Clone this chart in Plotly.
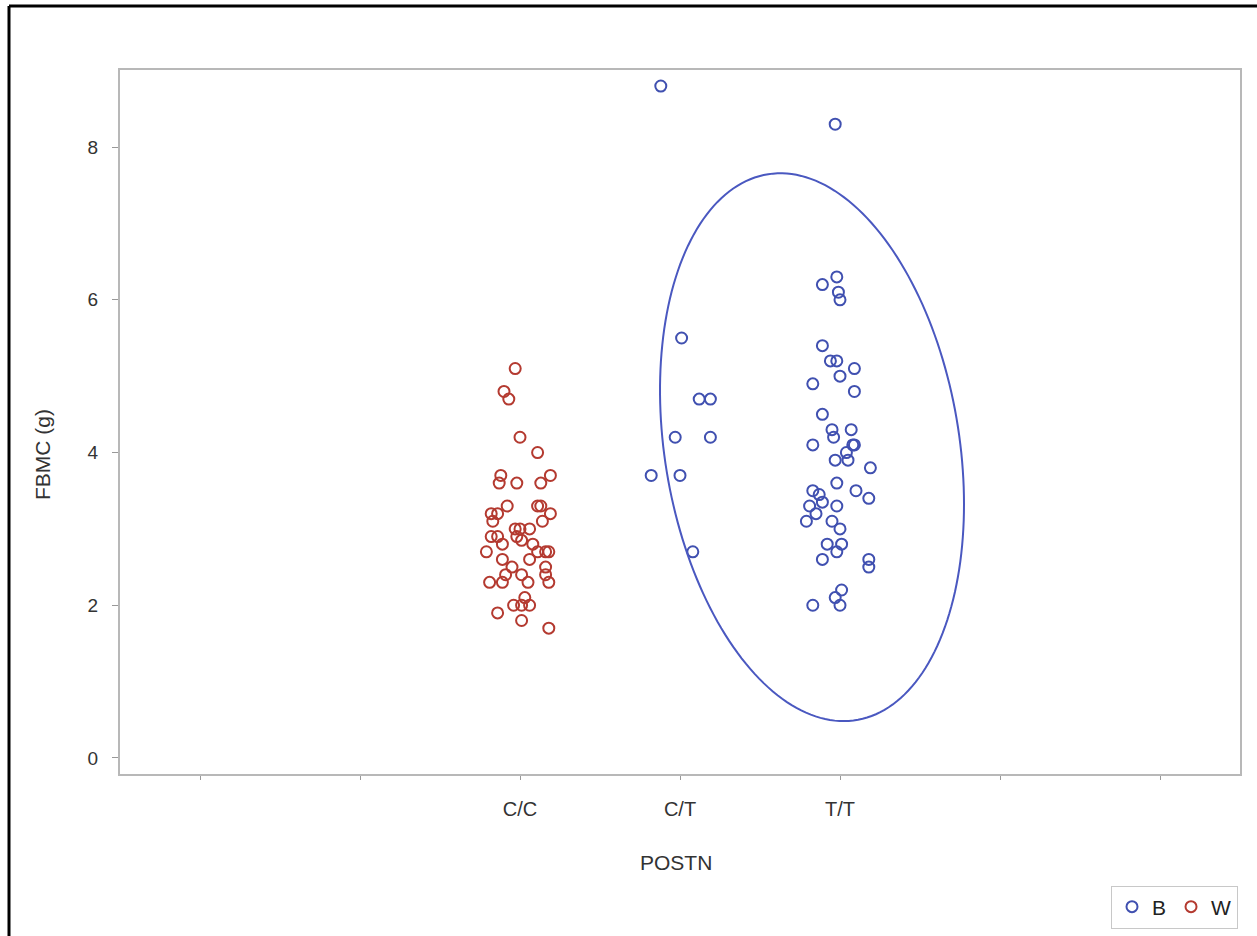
import numpy as np
import plotly.graph_objects as go

# ---- data ----
categories = ["", "", "C/C", "C/T", "T/T", "", ""]

# W group (C/C): horizontal jitter offset, FBMC value
w_jitter = [-0.03, -0.10, -0.07, 0.00, 0.11, -0.12, 0.19, -0.13, -0.02, 0.13,
            -0.18, -0.14, -0.08, 0.11, 0.13, 0.19, -0.17, 0.14, -0.18, -0.14,
            -0.03, 0.00, 0.06, -0.02, 0.01, 0.08, -0.11, -0.21, 0.11, 0.16,
            0.18, -0.11, 0.06, -0.05, 0.16, -0.09, 0.01, 0.16, -0.19, -0.11,
            0.05, 0.18, 0.03, -0.04, 0.01, 0.06, -0.14, 0.01, 0.18]
w_fbmc = [5.1, 4.8, 4.7, 4.2, 4.0, 3.7, 3.7, 3.6, 3.6, 3.6,
          3.2, 3.2, 3.3, 3.3, 3.3, 3.2, 3.1, 3.1, 2.9, 2.9,
          3.0, 3.0, 3.0, 2.9, 2.85, 2.8, 2.8, 2.7, 2.7, 2.7,
          2.7, 2.6, 2.6, 2.5, 2.5, 2.4, 2.4, 2.4, 2.3, 2.3,
          2.3, 2.3, 2.1, 2.0, 2.0, 2.0, 1.9, 1.8, 1.7]

# B group, C/T
bct_jitter = [-0.12, 0.01, 0.12, 0.19, -0.03, 0.19, -0.18, 0.00, 0.08]
bct_fbmc = [8.8, 5.5, 4.7, 4.7, 4.2, 4.2, 3.7, 3.7, 2.7]

# B group, T/T
btt_jitter = [-0.03, -0.02, -0.11, -0.01, 0.00, -0.11, -0.06, -0.02, 0.09, 0.00,
              -0.17, 0.09, -0.11, -0.05, 0.07, -0.04, -0.17, 0.08, 0.09, 0.04,
              -0.03, 0.05, 0.19, -0.02, 0.10, 0.18, -0.17, -0.13, -0.19, -0.11,
              -0.15, -0.02, -0.21, -0.05, 0.00, -0.08, 0.01, -0.02, -0.11, 0.18,
              0.18, 0.01, -0.03, -0.17, 0.00]
btt_fbmc = [8.3, 6.3, 6.2, 6.1, 6.0, 5.4, 5.2, 5.2, 5.1, 5.0,
            4.9, 4.8, 4.5, 4.3, 4.3, 4.2, 4.1, 4.1, 4.1, 4.0,
            3.9, 3.9, 3.8, 3.6, 3.5, 3.4, 3.5, 3.45, 3.3, 3.35,
            3.2, 3.3, 3.1, 3.1, 3.0, 2.8, 2.8, 2.7, 2.6, 2.6,
            2.5, 2.2, 2.1, 2.0, 2.0]

x_title = "POSTN"
y_title = "FBMC (g)"

# ellipse (highlight) parameters in data units
ell_cx, ell_cy = 3.825, 4.07
ell_ax, ell_ay1, ell_ay2 = 0.95, 0.746, 3.509

# ---- styles ----
BLUE = "#4050B0"
RED = "#B43A30"
AXIS = "#B8B8B8"
TXT = "#333333"

pos = {c: i for i, c in enumerate(categories) if c}

fig = go.Figure()

bx = [pos["C/T"] + j for j in bct_jitter] + [pos["T/T"] + j for j in btt_jitter]
by = bct_fbmc + btt_fbmc
fig.add_trace(go.Scatter(
    x=bx, y=by, mode="markers", name="B",
    marker=dict(symbol="circle-open", size=11, color=BLUE, line=dict(width=2, color=BLUE)),
))
wx = [pos["C/C"] + j for j in w_jitter]
fig.add_trace(go.Scatter(
    x=wx, y=w_fbmc, mode="markers", name="W",
    marker=dict(symbol="circle-open", size=11, color=RED, line=dict(width=2, color=RED)),
))

t = np.linspace(0, 2 * np.pi, 200)
ex = ell_cx + ell_ax * np.cos(t)
ey = ell_cy - ell_ay1 * np.cos(t) - ell_ay2 * np.sin(t)
path = "M " + " L ".join(f"{a:.4f},{b:.4f}" for a, b in zip(ex, ey)) + " Z"

W, H = 1257, 936
L, R, T, B = 120, 17, 70, 162
pw, ph = W - L - R, H - T - B

def px_x(p):
    return (p - L) / pw

def px_y(p):
    return (H - B - p) / ph

shapes = [
    dict(type="path", xref="x", yref="y", path=path, line=dict(color="#4A58C0", width=2)),
    dict(type="line", xref="paper", yref="paper", x0=px_x(9), x1=px_x(1260), y0=px_y(6), y1=px_y(6),
         line=dict(color="black", width=3)),
    dict(type="line", xref="paper", yref="paper", x0=px_x(9), x1=px_x(9), y0=px_y(6), y1=px_y(940),
         line=dict(color="black", width=3)),
]

annotations = [
    dict(text=y_title, xref="paper", yref="paper", x=px_x(42), y=px_y(455),
         xanchor="center", yanchor="middle", textangle=-90, showarrow=False,
         font=dict(size=21, color=TXT)),
    dict(text=x_title, xref="paper", yref="paper", x=px_x(676), y=px_y(862),
         xanchor="center", yanchor="middle", showarrow=False,
         font=dict(size=21, color=TXT)),
]

fig.update_layout(
    width=W, height=H,
    margin=dict(l=L, r=R, t=T, b=B, autoexpand=False),
    paper_bgcolor="white", plot_bgcolor="white",
    font=dict(family="Liberation Sans, Arial, sans-serif", size=20, color=TXT),
    shapes=shapes,
    annotations=annotations,
    showlegend=True,
    legend=dict(
        orientation="h", x=px_x(1238), y=px_y(907), xanchor="right", yanchor="middle",
        bordercolor="#C8C8C8", borderwidth=1, font=dict(size=21, color="#222222"),
        itemwidth=30, tracegroupgap=0,
    ),
    xaxis=dict(
        range=[-0.5, 6.5], tickmode="array", tickvals=list(range(len(categories))),
        ticktext=categories, showgrid=False, zeroline=False, automargin=False,
        showline=True, linecolor=AXIS, linewidth=2, mirror=True,
        ticks="outside", ticklen=4, tickcolor="#999999", tickwidth=1,
        ticklabelstandoff=12, tickfont=dict(size=20, color=TXT),
    ),
    yaxis=dict(
        range=[-0.21, 9.01], tickvals=[0, 2, 4, 6, 8], showgrid=False, zeroline=False,
        automargin=False,
        showline=True, linecolor=AXIS, linewidth=2, mirror=True,
        ticks="outside", ticklen=6, tickcolor="#999999", tickwidth=1,
        ticklabelstandoff=10, tickfont=dict(size=19, color=TXT),
    ),
)

fig.write_html("out.html")
